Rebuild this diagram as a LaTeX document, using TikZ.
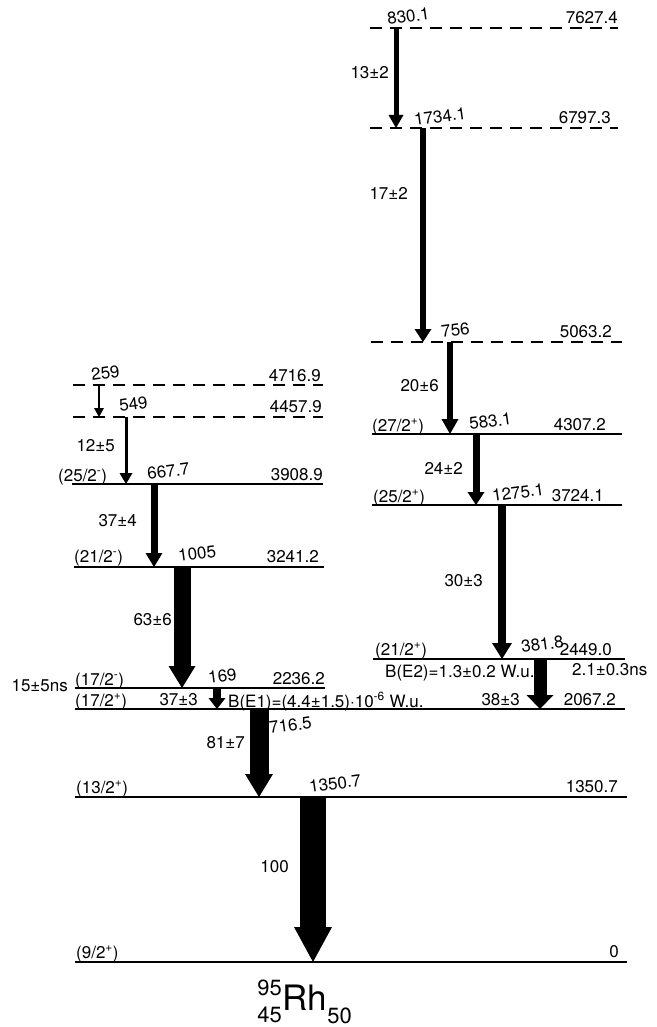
\documentclass[tikz,border=0pt]{standalone}
\usepackage{fontspec}
\setmainfont{TeX Gyre Heros}
\usetikzlibrary{arrows.meta}

\tikzset{
  lev/.style={line width=1.6pt},
  virt/.style={lev, dash pattern=on 12pt off 8pt},
  gam/.style n args={3}{line width=#1, -{Triangle[width=#2, length=#3, line width=0pt]}},
  lab/.style={inner sep=0pt, font=\fontsize{17}{19}\selectfont},
  elab/.style={lab, anchor=base west, rotate=8},
}

\begin{document}
\begin{tikzpicture}[x=1pt,y=-1pt]
\useasboundingbox (0,0) rectangle (656,1027);

% Levels, right cascade
\draw[virt] (370,28) coordinate (L7627a) -- (618,28) coordinate (L7627b);
\draw[virt] (370,128) coordinate (L6797a) -- (618,128) coordinate (L6797b);
\draw[virt] (371,342) coordinate (L5063a) -- (622,342) coordinate (L5063b);
\draw[lev] (372,434) coordinate (L4307a) -- (622,434) coordinate (L4307b);
\draw[lev] (372,505) coordinate (L3724a) -- (622,505) coordinate (L3724b);
\draw[lev] (373,659) coordinate (L2449a) -- (625,659) coordinate (L2449b);

% Levels, left cascade
\draw[virt] (73,385) coordinate (L4716a) -- (323,385) coordinate (L4716b);
\draw[virt] (73,417) coordinate (L4457a) -- (323,417) coordinate (L4457b);
\draw[lev] (72,484) coordinate (L3908a) -- (323,484) coordinate (L3908b);
\draw[lev] (74,567) coordinate (L3241a) -- (324,567) coordinate (L3241b);
\draw[lev] (75,688) coordinate (L2236a) -- (325,688) coordinate (L2236b);

% Common levels
\draw[lev] (75,709) coordinate (L2067a) -- (625,709) coordinate (L2067b);
\draw[lev] (75,797) coordinate (L1350a) -- (627,797) coordinate (L1350b);
\draw[lev] (75,962) coordinate (L0a) -- (627,962) coordinate (L0b);

% Transitions
\coordinate (g830t) at (396,28);   \coordinate (g830b) at (396,128);
\coordinate (g1734t) at (423,128); \coordinate (g1734b) at (423,342);
\coordinate (g756t) at (450,342);  \coordinate (g756b) at (450,434);
\coordinate (g583t) at (476,434);  \coordinate (g583b) at (476,505);
\coordinate (g1275t) at (502,505); \coordinate (g1275b) at (502,659);
\coordinate (g381t) at (540,659);  \coordinate (g381b) at (540,709);
\coordinate (g259t) at (99,385);   \coordinate (g259b) at (99,417);
\coordinate (g549t) at (126,417);  \coordinate (g549b) at (126,484);
\coordinate (g667t) at (154,484);  \coordinate (g667b) at (154,567);
\coordinate (g1005t) at (182,567); \coordinate (g1005b) at (182,688);
\coordinate (g169t) at (217,688);  \coordinate (g169b) at (217,709);
\coordinate (g716t) at (259,709);  \coordinate (g716b) at (259,797);
\coordinate (g1350t) at (313,797); \coordinate (g1350b) at (313,962);

\draw[gam={5pt}{15pt}{13pt}] (g830t) -- (g830b);
\draw[gam={5.5pt}{17pt}{13pt}] (g1734t) -- (g1734b);
\draw[gam={6pt}{17pt}{15pt}] (g756t) -- (g756b);
\draw[gam={7pt}{17pt}{13pt}] (g583t) -- (g583b);
\draw[gam={8pt}{20pt}{16pt}] (g1275t) -- (g1275b);
\draw[gam={13pt}{27pt}{14pt}] (g381t) -- (g381b);
\draw[gam={1.5pt}{10pt}{9pt}] (g259t) -- (g259b);
\draw[gam={3pt}{13pt}{11pt}] (g549t) -- (g549b);
\draw[gam={7pt}{17pt}{14pt}] (g667t) -- (g667b);
\draw[gam={17pt}{27pt}{22pt}] (g1005t) -- (g1005b);
\draw[gam={8pt}{17pt}{11pt}] (g169t) -- (g169b);
\draw[gam={19pt}{28pt}{23pt}] (g716t) -- (g716b);
\draw[gam={26pt}{38pt}{35pt}] (g1350t) -- (g1350b);

% Gamma energies
\node[elab] (e830) at (388,25) {830.1};
\node[elab] (e1734) at (415,126) {1734.1};
\node[elab] (e756) at (442,338) {756};
\node[elab] (e583) at (470,430) {583.1};
\node[elab] (e1275) at (493,502) {1275.1};
\node[elab] (e381) at (522,653) {381.8};
\node[elab] (e259) at (92,381) {259};
\node[elab] (e549) at (120,412) {549};
\node[elab] (e667) at (148,480) {667.7};
\node[elab] (e1005) at (179,562) {1005};
\node[elab] (e169) at (209,684) {169};
\node[elab] (e716) at (270,734) {716.5};
\node[elab] (e1350) at (310,793) {1350.7};

% Level energies
\node[lab, anchor=base east] (n7627) at (618,24) {7627.4};
\node[lab, anchor=base east] (n6797) at (611,124) {6797.3};
\node[lab, anchor=base east] (n5063) at (612,337) {5063.2};
\node[lab, anchor=base east] (n4307) at (606,430) {4307.2};
\node[lab, anchor=base east] (n3724) at (604,501) {3724.1};
\node[lab, anchor=base east] (n2449) at (612,655) {2449.0};
\node[lab, anchor=base east] (n2067) at (616,705) {2067.2};
\node[lab, anchor=base east] (n1350) at (618,792) {1350.7};
\node[lab, anchor=base east] (n0) at (619,957) {0};
\node[lab, anchor=base east] (n4716) at (321,381) {4716.9};
\node[lab, anchor=base east] (n4457) at (322,412) {4457.9};
\node[lab, anchor=base east] (n3908) at (323,480) {3908.9};
\node[lab, anchor=base east] (n3241) at (319,562) {3241.2};
\node[lab, anchor=base east] (n2236) at (325,684) {2236.2};

% Spins and parities
\node[lab, anchor=base west] (s4307) at (372,431) {(27/2\textsuperscript{+})};
\node[lab, anchor=base west] (s3724) at (373,502) {(25/2\textsuperscript{+})};
\node[lab, anchor=base west] (s2449) at (375,655) {(21/2\textsuperscript{+})};
\node[lab, anchor=base west] (s3908) at (58,481) {(25/2\textsuperscript{-})};
\node[lab, anchor=base west] (s3241) at (74,562) {(21/2\textsuperscript{-})};
\node[lab, anchor=base west] (s2236) at (75,685) {(17/2\textsuperscript{-})};
\node[lab, anchor=base west] (s2067) at (75,706) {(17/2\textsuperscript{+})};
\node[lab, anchor=base west] (s1350) at (76,793) {(13/2\textsuperscript{+})};
\node[lab, anchor=base west] (s0) at (76,958) {(9/2\textsuperscript{+})};

% Intensities
\node[lab, anchor=east] (i830) at (389,73) {13±2};
\node[lab, anchor=east] (i1734) at (408,193) {17±2};
\node[lab, anchor=east] (i756) at (439,386) {20±6};
\node[lab, anchor=east] (i583) at (463,468) {24±2};
\node[lab, anchor=east] (i1275) at (483,581) {30±3};
\node[lab, anchor=east] (i381) at (520,700) {38±3};
\node[lab, anchor=east] (i549) at (115,446) {12±5};
\node[lab, anchor=east] (i667) at (137,521) {37±4};
\node[lab, anchor=east] (i1005) at (172,620) {63±6};
\node[lab, anchor=east] (i169) at (198,700) {37±3};
\node[lab, anchor=east] (i716) at (245,743) {81±7};
\node[lab, anchor=east] (i1350) at (289,867) {100};

% Lifetimes and transition strengths
\node[lab, anchor=east] (t2236) at (68,686) {15±5ns};
\node[lab, anchor=west] (t2449) at (572,670) {2.1±0.3ns};
\node[lab, anchor=west] (b381) at (385,673) {B(E2)=1.3±0.2 W.u.};
\node[lab, anchor=base west] (b169) at (228,707) {B(E1)=(4.4±1.5)·10\textsuperscript{-6} W.u.};

% Nucleus
\node[inner sep=0pt, anchor=base west, font=\fontsize{35}{36}\selectfont] (rh) at (282,1010) {Rh};
\node[inner sep=0pt, anchor=base east, font=\fontsize{22}{24}\selectfont] (za) at ([yshift=15pt]rh.base west) {95};
\node[inner sep=0pt, anchor=base east, font=\fontsize{22}{24}\selectfont] (zb) at ([yshift=-12pt]rh.base west) {45};
\node[inner sep=0pt, anchor=base west, font=\fontsize{22}{24}\selectfont] (zn) at ([yshift=-13pt]rh.base east) {50};
\end{tikzpicture}
\end{document}
